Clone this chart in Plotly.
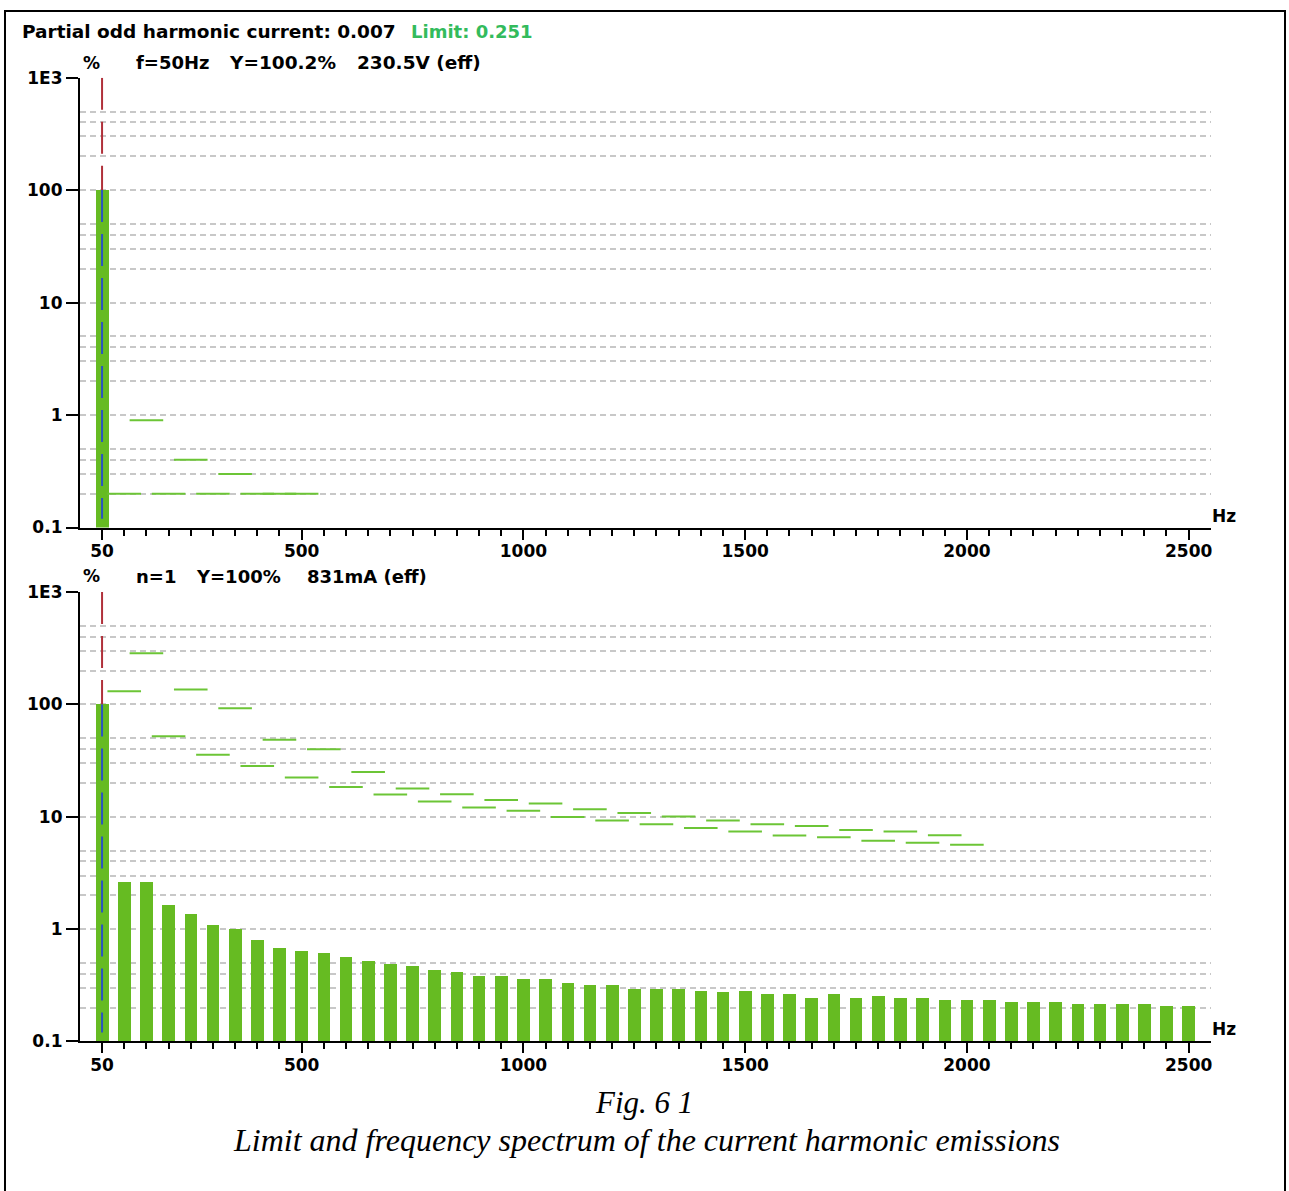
import plotly.graph_objects as go

W, H = 1289, 1191

# ---------------- data ----------------
harmonic_order = list(range(1, 51))
freq_hz = [50 * n for n in harmonic_order]

# bottom: current harmonics (% of fundamental)
current_pct = [100, 2.62, 2.62, 1.65, 1.36, 1.085, 1.00, 0.80, 0.68, 0.633,
               0.61, 0.56, 0.52, 0.485, 0.466, 0.43, 0.414, 0.385, 0.385, 0.356,
               0.356, 0.331, 0.32, 0.32, 0.294, 0.294, 0.294, 0.283, 0.273, 0.283,
               0.262, 0.262, 0.243, 0.262, 0.243, 0.253, 0.243, 0.243, 0.233, 0.233,
               0.233, 0.2255, 0.2255, 0.2255, 0.217, 0.217, 0.217, 0.217, 0.208, 0.208]

# bottom: current limits for orders 2..40 (%)
current_limit_order = list(range(2, 41))
current_limit_pct = [131, 285, 52.2, 136, 35.6, 92.7, 28.3, 48.4, 22.4, 40.0,
                     18.4, 25.1, 15.8, 17.9, 13.7, 15.9, 12.1, 14.1, 11.3, 13.1,
                     9.97, 11.7, 9.27, 10.8, 8.59, 10.07, 7.96, 9.27, 7.39, 8.59,
                     6.81, 8.30, 6.58, 7.64, 6.11, 7.39, 5.86, 6.86, 5.63]

# top: voltage spectrum (only fundamental visible above 0.1 %)
voltage_order = [1]
voltage_pct = [100.2]
voltage_limit_order = [2, 3, 4, 5, 6, 7, 8, 9, 10]
voltage_limit_pct = [0.2, 0.9, 0.2, 0.4, 0.2, 0.3, 0.2, 0.2, 0.2]

x_tick_vals = [50, 500, 1000, 1500, 2000, 2500]
x_tick_text = ["50", "500", "1000", "1500", "2000", "2500"]
y_tick_vals = [0.1, 1, 10, 100, 1000]
y_tick_text = ["0.1", "1", "10", "100", "1E3"]
y_minor_vals = [m * d for d in (0.1, 1, 10, 100) for m in (2, 3, 4, 5)]
x_minor_vals = [f for f in freq_hz if f not in x_tick_vals]

cursor_freq = 50

# ---------------- style ----------------
BAR_GREEN = "#66bb22"
LIM_GREEN = "#6cc536"
RED = "#b0303a"
BLUE = "#2a55c0"
GRID = "#c8c8c8"
FONT = "DejaVu Sans"

# observed rendering: paper appears ~1170 px tall starting ~9.4 px down
Y_OFF, Y_SPAN = 9.4, 1170.0


def fx(px):
    return px / W


def fy(py):
    return 1 - (py - Y_OFF) / Y_SPAN


fig = go.Figure()


def add_panel(xa, ya, orders, values, lim_orders, lim_values):
    xs = [freq_hz[o - 1] for o in orders]
    fig.add_trace(go.Bar(x=xs, y=values, width=28.5, marker=dict(color=BAR_GREEN, line=dict(width=0)),
                         xaxis=xa, yaxis=ya, hoverinfo="skip"))
    lx = [freq_hz[o - 1] for o in lim_orders]
    fig.add_trace(go.Scatter(x=lx, y=lim_values, mode="markers",
                             marker=dict(symbol="line-ew", size=24, line=dict(color=LIM_GREEN, width=2)),
                             xaxis=xa, yaxis=ya, hoverinfo="skip"))
    fund = values[0]
    fig.add_trace(go.Scatter(x=[cursor_freq, cursor_freq], y=[1000, fund], mode="lines",
                             line=dict(color=RED, width=2, dash="32px,12px"),
                             xaxis=xa, yaxis=ya, hoverinfo="skip"))
    fig.add_trace(go.Scatter(x=[cursor_freq, cursor_freq], y=[fund, 0.12], mode="lines",
                             line=dict(color=BLUE, width=2, dash="32px,12px"),
                             xaxis=xa, yaxis=ya, hoverinfo="skip"))


add_panel("x", "y", voltage_order, voltage_pct, voltage_limit_order, voltage_limit_pct)
add_panel("x2", "y2", harmonic_order, current_pct, current_limit_order, current_limit_pct)

xdom = [fx(80), fx(1212.7)]
top_dom = [fy(526.5), fy(77)]
bot_dom = [fy(1040), fy(591)]

tickfont = dict(family=FONT, size=17, color="black", weight="bold")


def xaxis_cfg(anchor):
    return dict(domain=xdom, anchor=anchor, range=[0, 2550], showline=True, linecolor="black",
                linewidth=2, showgrid=False, zeroline=False, tickmode="array",
                tickvals=x_tick_vals, ticktext=x_tick_text, ticks="outside", ticklen=10,
                tickwidth=2, tickcolor="black", tickfont=tickfont, ticklabelstandoff=-3,
                minor=dict(tickmode="array", tickvals=x_minor_vals, ticks="outside", ticklen=6,
                           tickwidth=1.5, tickcolor="black", showgrid=False),
                fixedrange=True)


def yaxis_cfg(anchor, dom):
    return dict(domain=dom, anchor=anchor, type="log", range=[-1, 3], showline=True,
                linecolor="black", linewidth=2, zeroline=False, tickmode="array",
                tickvals=y_tick_vals, ticktext=y_tick_text, ticks="outside", ticklen=12,
                tickwidth=2, tickcolor="black", tickfont=tickfont,
                showgrid=True, gridcolor=GRID, gridwidth=1.5, griddash="6px,4px",
                minor=dict(tickmode="array", tickvals=y_minor_vals, ticks="", showgrid=True,
                           gridcolor=GRID, gridwidth=1.5, griddash="6px,4px"),
                fixedrange=True)


ann = []


def text(s, xpx, ypx, size=18, color="black", anchor="left", family=FONT, weight="bold", style="normal"):
    ann.append(dict(text=s, x=fx(xpx), y=fy(ypx), xref="paper", yref="paper", xanchor=anchor,
                    yanchor="middle", showarrow=False,
                    font=dict(family=family, size=size, color=color, weight=weight, style=style)))


text("Partial odd harmonic current: 0.007", 20, 31, size=18.5)
text("Limit: 0.251", 410, 31, size=18, color="#33bb5c")

text("%", 81, 62, size=17)
text("f=50Hz", 134, 62)
text("Y=100.2%", 227, 62, size=18.5)
text("230.5V (eff)", 356, 62, size=18.5)
text("Hz", 1212, 515, size=17)

text("%", 81, 575, size=17)
text("n=1", 134, 575)
text("Y=100%", 194, 575)
text("831mA (eff)", 305, 575)
text("Hz", 1212, 1028, size=17)

text("Fig. 6 1", 645, 1101, size=31, family="Liberation Serif", weight="normal", style="italic",
     anchor="center")
text("Limit and frequency spectrum of the current harmonic emissions", 648, 1138, size=32,
     family="Liberation Serif", weight="normal", style="italic", anchor="center")

fig.update_layout(
    width=W, height=H, autosize=False,
    margin=dict(l=0, r=0, t=0, b=0),
    paper_bgcolor="white", plot_bgcolor="white",
    showlegend=False, bargap=0,
    xaxis=xaxis_cfg("y"), yaxis=yaxis_cfg("x", top_dom),
    xaxis2=xaxis_cfg("y2"), yaxis2=yaxis_cfg("x2", bot_dom),
    annotations=ann,
    shapes=[dict(type="rect", xref="paper", yref="paper", x0=fx(5), x1=fx(1287), y0=-0.05,
                 y1=1 - 1.0 / H, line=dict(color="black", width=2), fillcolor="rgba(0,0,0,0)",
                 layer="above")],
)

post = (
    "document.documentElement.style.margin='0';"
    "document.documentElement.style.padding='0';"
    "document.documentElement.style.overflow='hidden';"
    "document.body.style.margin='0';"
    "document.body.style.padding='0';"
    "document.body.style.overflow='hidden';"
    "var gd=document.getElementById('{plot_id}');"
    "gd.style.position='absolute';gd.style.top='0px';gd.style.left='0px';"
)

fig.write_html("out.html", config={"displayModeBar": False}, post_script=post)
